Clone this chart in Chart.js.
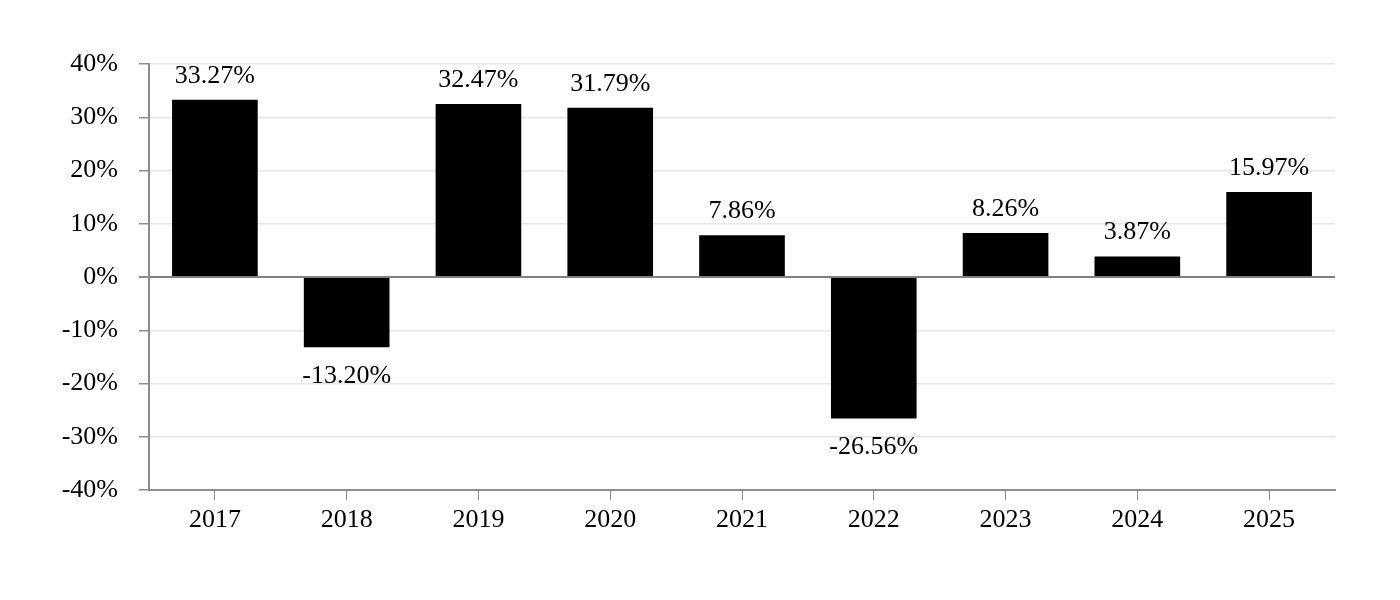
<!DOCTYPE html>
<html>
<head>
<meta charset="utf-8">
<script src="https://cdn.jsdelivr.net/npm/chart.js@4.4.1/dist/chart.umd.min.js"></script>
<style>
  html, body { margin: 0; padding: 0; background: #ffffff; }
  #wrap { width: 1400px; height: 600px; }
  #font-probe { position: absolute; left: -9999px; top: 0; font-family: "Liberation Serif"; font-size: 26px; }
</style>
</head>
<body>
<div id="font-probe">0123456789.%-</div>
<div id="wrap"><canvas id="js-bar-chart" width="1400" height="600"></canvas></div>
<script>
"use strict";

// data
const years = ["2017", "2018", "2019", "2020", "2021", "2022", "2023", "2024", "2025"];
const returns = [33.27, -13.2, 32.47, 31.79, 7.86, -26.56, 8.26, 3.87, 15.97];
const yTicks = [-40, -30, -20, -10, 0, 10, 20, 30, 40];

const FONT = '"Liberation Serif", "Times New Roman", Times, serif';

// value labels above / below each bar
const barLabels = {
  id: "barLabels",
  afterDatasetsDraw(chart) {
    const ctx = chart.ctx;
    const meta = chart.getDatasetMeta(0);
    ctx.save();
    ctx.font = "26px " + FONT;
    ctx.fillStyle = "#000000";
    ctx.textAlign = "center";
    ctx.textBaseline = "middle";
    meta.data.forEach((bar, i) => {
      const v = returns[i];
      const y = v >= 0 ? bar.y - 24 : bar.y + 29;
      ctx.fillText(v.toFixed(2) + "%", bar.x, y);
    });
    ctx.restore();
  },
};

function createBarChart() {
  const ctx = document.getElementById("js-bar-chart").getContext("2d");
  new Chart(ctx, {
    type: "bar",
    data: {
      labels: years,
      datasets: [
        {
          data: returns,
          backgroundColor: "#000000",
          barPercentage: 0.65,
          categoryPercentage: 1,
        },
      ],
    },
    options: {
      responsive: false,
      animation: false,
      devicePixelRatio: 1,
      layout: { padding: { left: 0, right: 65, top: 64, bottom: 0 } },
      scales: {
        x: {
          grid: {
            drawOnChartArea: false,
            drawTicks: true,
            offset: false,
            tickLength: 10,
            tickColor: "#8c8c8c",
          },
          border: { color: "#8c8c8c", width: 2 },
          ticks: {
            color: "#000000",
            font: { family: FONT, size: 26 },
            padding: 5,
            maxRotation: 0,
          },
          afterFit: (scale) => {
            scale.height = 110;
          },
        },
        y: {
          min: -40,
          max: 40,
          afterBuildTicks: (scale) => {
            scale.ticks = yTicks.map((v) => ({ value: v }));
          },
          grid: {
            color: (c) => (c.tick && c.tick.value === 0 ? "#808080" : "#e6e6e6"),
            lineWidth: (c) => (c.tick && c.tick.value === 0 ? 2 : 1.5),
            tickLength: 10,
            tickColor: "#8c8c8c",
          },
          border: { color: "#8c8c8c", width: 2 },
          ticks: {
            color: "#000000",
            font: { family: FONT, size: 26 },
            padding: 21,
            callback: (value) => value + "%",
          },
          afterFit: (scale) => {
            scale.width = 149;
          },
        },
      },
      plugins: {
        legend: { display: false },
        tooltip: { enabled: false },
      },
    },
    plugins: [barLabels],
  });
}

if (document.fonts && document.fonts.load) {
  document.fonts.load('26px "Liberation Serif"').then(createBarChart, createBarChart);
} else {
  createBarChart();
}
</script>
</body>
</html>
